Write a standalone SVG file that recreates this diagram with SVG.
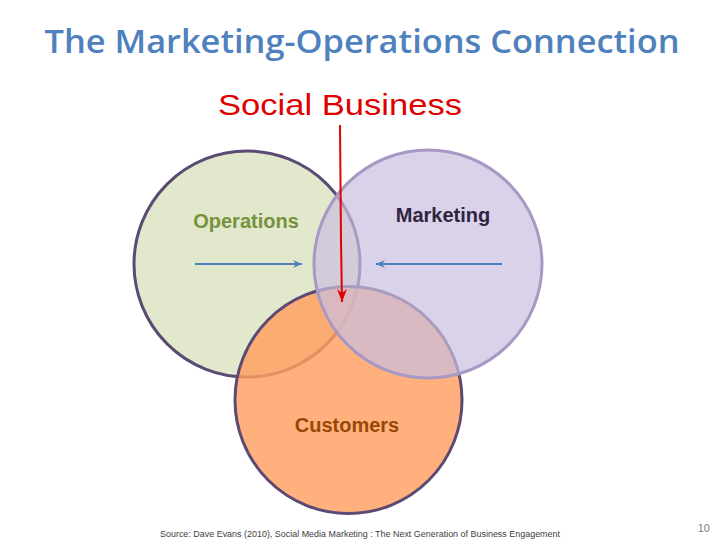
<svg xmlns="http://www.w3.org/2000/svg" width="720" height="540" viewBox="0 0 720 540">
<style>
.t{font-family:"Liberation Sans",Arial,sans-serif;font-size:20px;font-weight:bold}
.c{stroke-width:3}
</style>
<defs>
<marker id="ab" markerWidth="10" markerHeight="10" refX="9" refY="5" orient="auto" markerUnits="userSpaceOnUse"><path d="M0,1 L9,5 L0,9 L3,5 Z" fill="#4F81BD"/></marker>
<marker id="ar" markerWidth="12" markerHeight="14" refX="6" refY="13" orient="0" markerUnits="userSpaceOnUse"><path d="M1,0 L6,13 L11,0 L6,4 Z" fill="#E00000"/></marker>
</defs>
<rect width="720" height="540" fill="#fff"/>
<text x="362" y="53" text-anchor="middle" font-family="Open Sans,Liberation Sans,sans-serif" font-size="33" font-weight="600" fill="#4F81BD" textLength="635" lengthAdjust="spacingAndGlyphs">The Marketing-Operations Connection</text>
<text x="340" y="115" text-anchor="middle" font-family="Liberation Sans,Arial,sans-serif" font-size="29" fill="#E00000" textLength="244" lengthAdjust="spacingAndGlyphs">Social Business</text>
<g id="operations"><circle class="c" cx="247" cy="264" r="113" fill="#E1E8CB" stroke="#5B4A73"/><text class="t" x="246" y="228" text-anchor="middle" fill="#76923C">Operations</text></g>
<g id="customers"><circle class="c" cx="348.5" cy="400" r="113.5" fill="#FF9F5F" fill-opacity="0.82" stroke="#5B4A73"/><text class="t" x="347" y="432" text-anchor="middle" fill="#974806">Customers</text></g>
<g id="marketing"><circle class="c" cx="428" cy="264" r="114" fill="#CBBFDF" fill-opacity="0.7" stroke="#A898C4"/><text class="t" x="443" y="222" text-anchor="middle" fill="#302442">Marketing</text></g>
<g id="connectors" fill="none">
<line x1="195" y1="264" x2="302" y2="264" stroke="#4F81BD" stroke-width="2" marker-end="url(#ab)"/>
<line x1="502" y1="264" x2="376" y2="264" stroke="#4F81BD" stroke-width="2" marker-end="url(#ab)"/>
<polyline points="340,125 341,242 342,302" stroke="#E00000" stroke-width="2" marker-end="url(#ar)"/>
</g>
<text x="160" y="537" font-family="Liberation Sans,Arial,sans-serif" font-size="8.5" fill="#404040" textLength="400" lengthAdjust="spacingAndGlyphs">Source: Dave Evans (2010), Social Media Marketing : The Next Generation of Business Engagement</text>
<text x="710" y="532" text-anchor="end" font-family="Liberation Sans,Arial,sans-serif" font-size="11" fill="#808080">10</text>
</svg>
